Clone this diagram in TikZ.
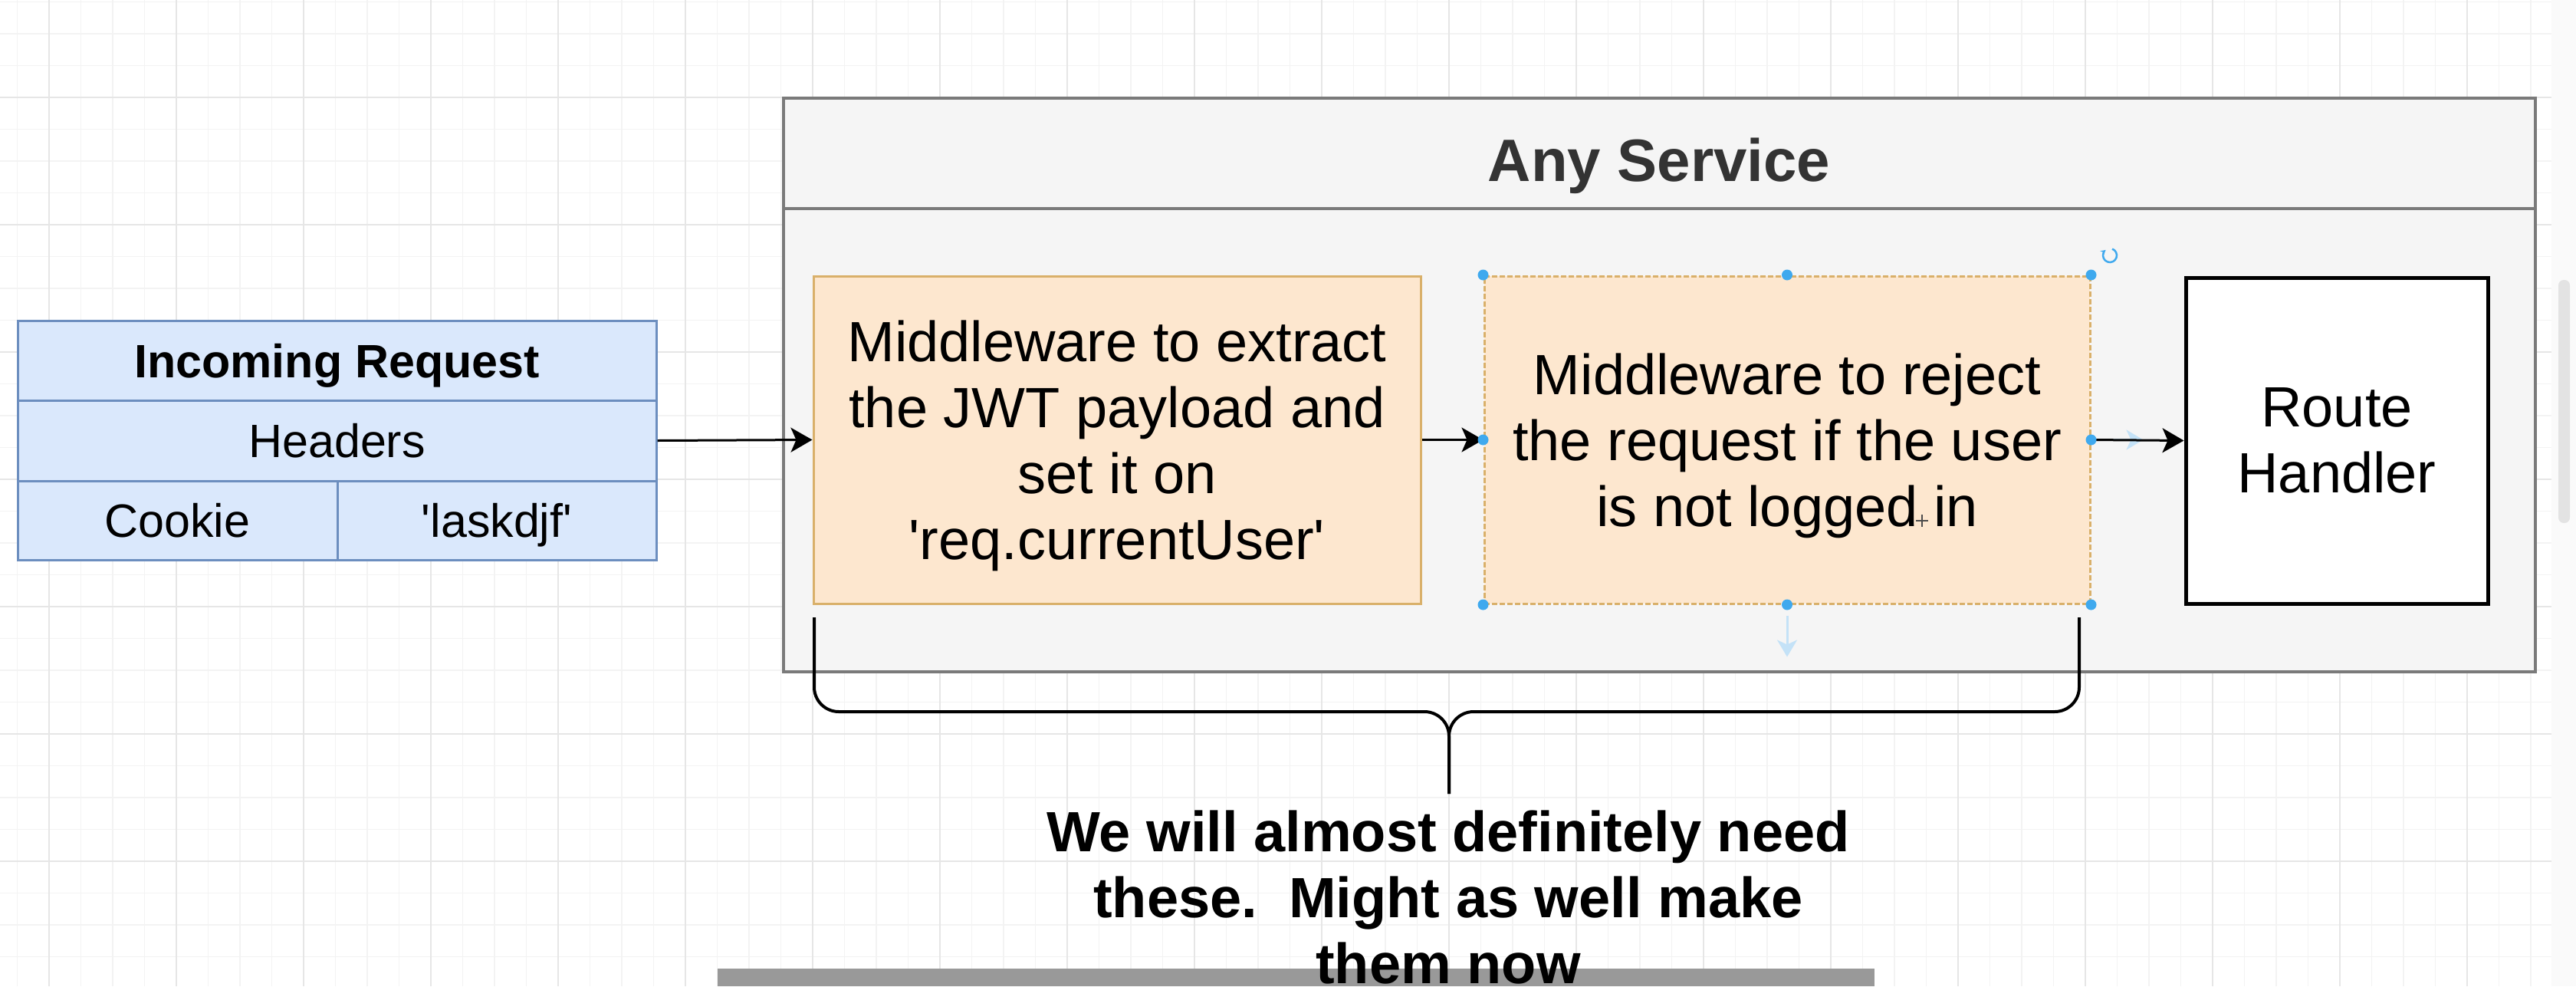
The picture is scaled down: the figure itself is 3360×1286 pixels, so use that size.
\documentclass[tikz,border=0pt]{standalone}
\usepackage{fontspec}
\setmainfont{Liberation Sans}[Ligatures=TeXOff]
\usetikzlibrary{arrows.meta}
\definecolor{irfill}{HTML}{DAE8FC}
\definecolor{irstroke}{HTML}{6C8EBF}
\definecolor{mwfill}{HTML}{FDE7CF}
\definecolor{mwstroke}{HTML}{D9B06A}
\definecolor{svcfill}{HTML}{F5F5F5}
\definecolor{svcstroke}{HTML}{7A7A7A}
\definecolor{textdark}{HTML}{333333}
\definecolor{handle}{HTML}{3FA9EE}
\definecolor{faint}{HTML}{C4E2F7}
\definecolor{gridmin}{HTML}{F3F3F3}
\definecolor{gridmaj}{HTML}{E6E6E6}
\begin{document}
\begin{tikzpicture}[x=1pt,y=-1pt,
  gridminor/.style={draw=gridmin, line width=1.5pt},
  gridmajor/.style={draw=gridmaj, line width=2pt},
  irbox/.style={rectangle, draw=irstroke, fill=irfill, line width=3pt, inner sep=0pt,
    text depth=0pt, font=\fontsize{61}{70}\selectfont},
  mwbox/.style={rectangle, draw=mwstroke, fill=mwfill, line width=3pt, inner sep=0pt,
    align=center, text depth=0pt, font=\fontsize{74}{86}\selectfont},
  routebox/.style={rectangle, draw=black, fill=white, line width=5pt, inner sep=0pt,
    align=center, text depth=0pt, font=\fontsize{74}{86}\selectfont},
  svcbox/.style={rectangle, draw=svcstroke, fill=svcfill, line width=4pt, inner sep=0pt},
  arr/.style={draw=black, line width=3pt, -{Stealth[length=28pt,width=32pt,inset=7pt]}},
  faintarr/.style={draw=faint, line width=3pt, -{Stealth[length=22pt,width=26pt,inset=6pt]}},
  bracepath/.style={draw=black, line width=4pt, rounded corners=32pt},
  handledot/.style={fill=handle},
]
\useasboundingbox (0,0) rectangle (3360,1286);
\fill[white] (0,0) rectangle (3360,1286);
% grid
\begin{scope}
\clip (0,0) rectangle (3328,1286);
\foreach \k in {0,...,80} {
  \pgfmathsetmacro\gx{22.5+41.5*\k}
  \draw[gridminor] (\gx,0) -- (\gx,1286);
}
\foreach \k in {0,...,31} {
  \pgfmathsetmacro\gy{2.5+41.5*\k}
  \draw[gridminor] (0,\gy) -- (3328,\gy);
}
\foreach \k in {0,...,20} {
  \pgfmathsetmacro\gx{64+166*\k}
  \draw[gridmajor] (\gx,0) -- (\gx,1286);
}
\foreach \k in {-1,...,8} {
  \pgfmathsetmacro\gy{127+166*\k}
  \draw[gridmajor] (0,\gy) -- (3328,\gy);
}
\end{scope}
% scrollbar
\fill[black!2] (3328,0) rectangle (3360,1286);
\fill[black!11, rounded corners=7pt] (3337,365) rectangle (3352,682);

% Incoming Request table
\node[irbox, minimum width=833pt, minimum height=104pt] (irTitle) at (439.5,470) {\bfseries Incoming Request};
\node[irbox, minimum width=833pt, minimum height=105pt] (irHeaders) at (439.5,574.5) {Headers};
\node[irbox, minimum width=417pt, minimum height=103pt] (irCookie) at (231.5,678.5) {Cookie};
\node[irbox, minimum width=416pt, minimum height=103pt] (irValue) at (648,678.5) {'laskdjf'};

% Any Service container
\node[svcbox, minimum width=2285pt, minimum height=604pt] (svcBody) at (2164.5,574) {};
\node[svcbox, minimum width=2285pt, minimum height=144pt] (svcHead) at (2164.5,200) {};
\node[anchor=base, text=textdark, font=\fontsize{78}{90}\selectfont\bfseries] (svcTitle) at (2164,236) {Any Service};

% boxes
\node[mwbox, minimum width=792pt, minimum height=427pt] (mw1) at (1457,573.5)
  {Middleware to extract\\the JWT payload and\\set it on\\'req.currentUser'};
\node[mwbox, dash pattern=on 7pt off 3pt, minimum width=790pt, minimum height=427pt] (mw2) at (2331,573.5)
  {Middleware to reject\\the request if the user\\is not logged in};
\node[routebox, minimum width=394pt, minimum height=425pt] (route) at (3048,574.5)
  {Route\\Handler};

% connectors
\draw[arr] (irHeaders.east) -- (mw1.west);
\draw[arr] (mw1.east) -- (mw2.west);
\draw[faintarr] ([xshift=12pt]mw2.east) -- ([xshift=68pt]mw2.east);
\draw[arr] (mw2.east) -- (route.west);
\draw[faintarr] ([yshift=-14pt]mw2.south) -- ([yshift=-68pt]mw2.south);

% selection handles
\foreach \p in {mw2.north west, mw2.north, mw2.north east, mw2.west, mw2.east, mw2.south west, mw2.south, mw2.south east}
  \fill[handledot] (\p) circle (7pt);
\draw[handle, line width=2.5pt, -{Stealth[length=6pt,width=7pt]}] (2752,333) ++(70:9pt) arc (70:-230:9pt);
% cursor
\draw[black!70, line width=2pt] (2499,679) -- (2515,679) (2507,671) -- (2507,687);

% brace
\coordinate (braceL) at (1062,805);
\coordinate (braceLc) at (1062,928);
\coordinate (braceM) at (1890,928);
\coordinate (braceTip) at (1890,1035);
\coordinate (braceRc) at (2712,928);
\coordinate (braceR) at (2712,805);
\draw[bracepath] (braceL) -- (braceLc) -- (braceM) -- (braceTip);
\draw[bracepath] (braceR) -- (braceRc) -- (braceM) -- (braceTip);

% bottom bar
\fill[black!40] (936,1263) rectangle (2445,1286);

% note
\node[align=center, inner sep=0pt, font=\fontsize{74}{86}\selectfont\bfseries] (note) at (1889,1170)
  {We will almost definitely need\\these.\ \ Might as well make\\them now};
\end{tikzpicture}
\end{document}
